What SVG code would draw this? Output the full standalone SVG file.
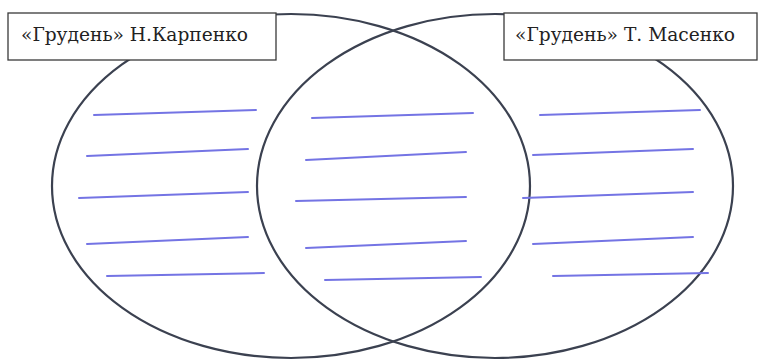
<svg xmlns="http://www.w3.org/2000/svg" width="758" height="361" viewBox="0 0 758 361">
<style>
.ell{fill:none;stroke:#3b4150;stroke-width:2.2}
.ln{stroke:#7474e4;stroke-width:2;stroke-linecap:round}
.box{fill:#fff;stroke:#3a3a3a;stroke-width:1.3}
.lbl{font-family:'DejaVu Serif',serif;font-size:19px;fill:#222}
</style>
<rect width="758" height="361" fill="#fff"/>
<g id="ellipse-left"><ellipse class="ell" cx="291" cy="186" rx="239" ry="172"/></g>
<g id="ellipse-right"><ellipse class="ell" cx="495" cy="186" rx="238" ry="172"/></g>
<g id="lines">
<line class="ln" x1="94" y1="115" x2="256" y2="110"/>
<line class="ln" x1="87" y1="156" x2="248" y2="149"/>
<line class="ln" x1="79" y1="198" x2="248" y2="192"/>
<line class="ln" x1="87" y1="244" x2="248" y2="237"/>
<line class="ln" x1="107" y1="276" x2="264" y2="273"/>
<line class="ln" x1="312" y1="118" x2="473" y2="113"/>
<line class="ln" x1="306" y1="160" x2="466" y2="152"/>
<line class="ln" x1="296" y1="201" x2="466" y2="197"/>
<line class="ln" x1="306" y1="248" x2="466" y2="241"/>
<line class="ln" x1="325" y1="280" x2="481" y2="277"/>
<line class="ln" x1="540" y1="115" x2="700" y2="110"/>
<line class="ln" x1="533" y1="155" x2="693" y2="149"/>
<line class="ln" x1="523" y1="198" x2="693" y2="192"/>
<line class="ln" x1="533" y1="244" x2="693" y2="237"/>
<line class="ln" x1="553" y1="276" x2="708" y2="273"/>
</g>
<g id="label-left">
<rect class="box" x="8" y="13" width="268" height="47"/>
<text class="lbl" x="21" y="41" textLength="227" lengthAdjust="spacingAndGlyphs">«Грудень» Н.Карпенко</text>
</g>
<g id="label-right">
<rect class="box" x="504" y="13" width="253" height="47"/>
<text class="lbl" x="515" y="41" textLength="220" lengthAdjust="spacingAndGlyphs">«Грудень» Т. Масенко</text>
</g>
</svg>
